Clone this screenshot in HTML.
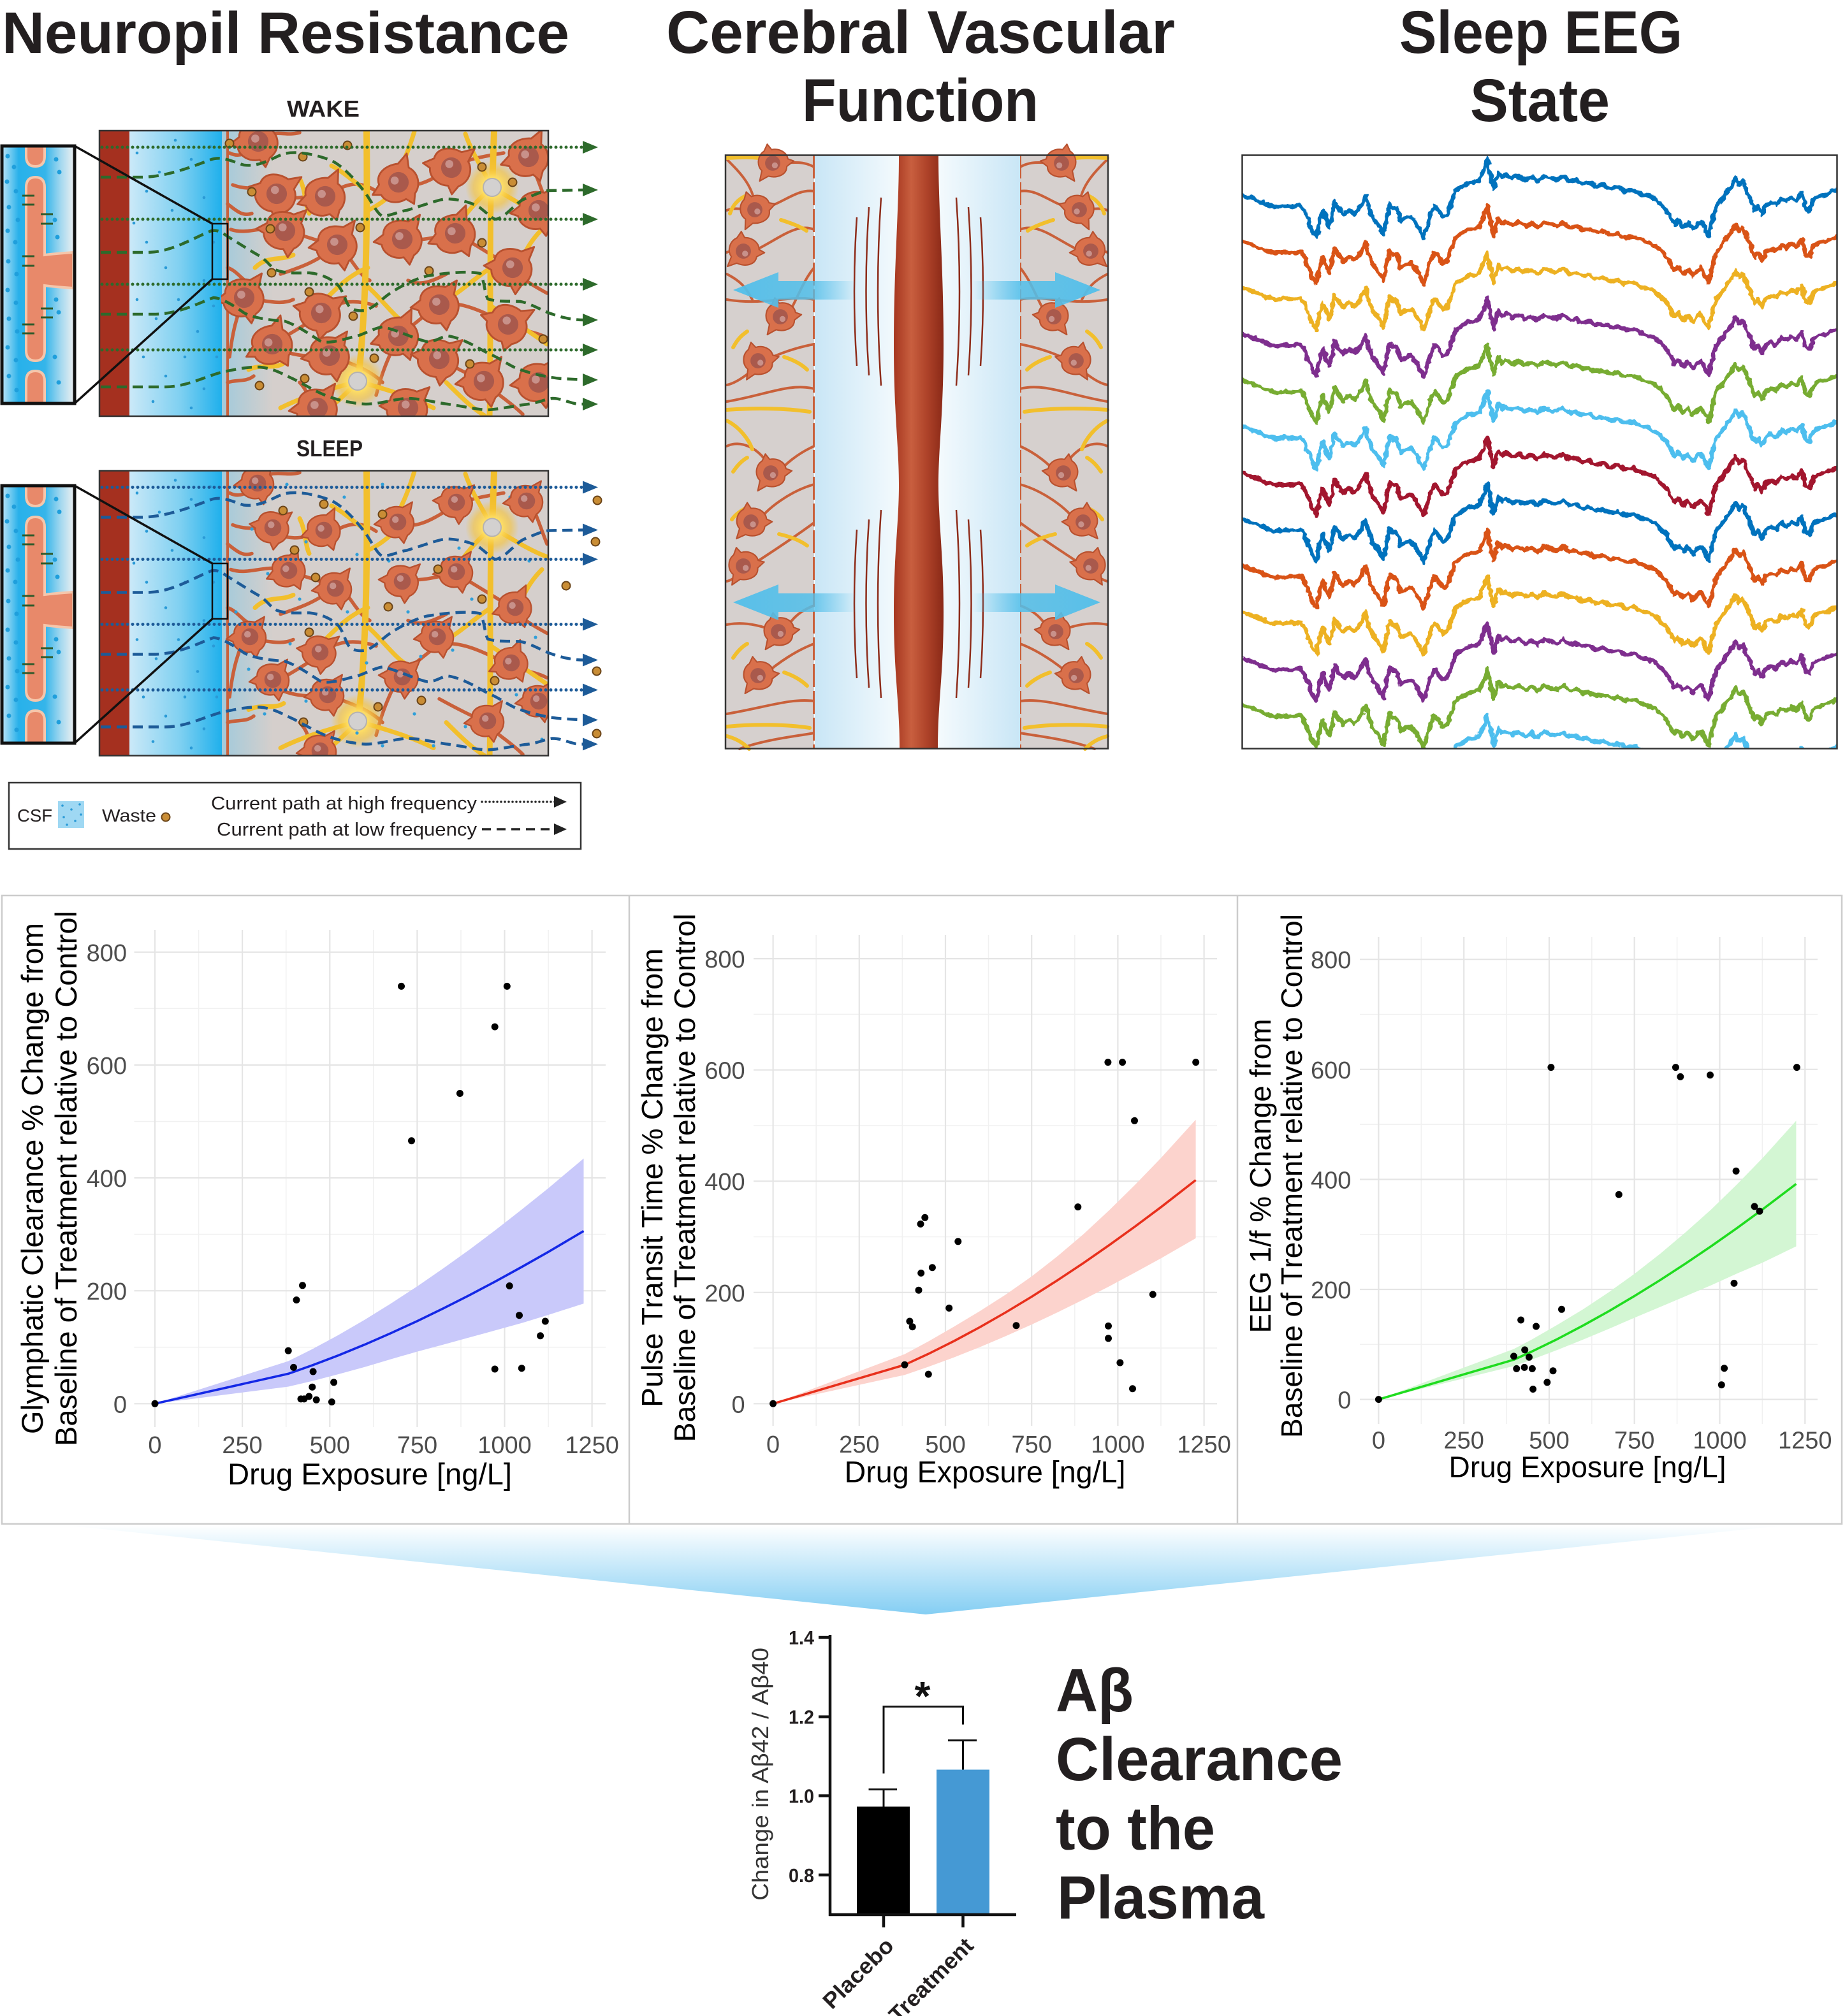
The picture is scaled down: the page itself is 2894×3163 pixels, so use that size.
<!DOCTYPE html>
<html><head><meta charset="utf-8">
<style>html,body{margin:0;padding:0;background:#fff}svg{display:block}</style>
</head><body>
<svg xmlns="http://www.w3.org/2000/svg" width="2894" height="3163" viewBox="0 0 2894 3163" font-family="'Liberation Sans', sans-serif">
<defs>
  <linearGradient id="wbg" x1="0" x2="1" y1="0" y2="0">
    <stop offset="0" stop-color="#cbe9f8"/><stop offset="0.55" stop-color="#7fd0f1"/><stop offset="1" stop-color="#1fb0ec"/>
  </linearGradient>
  <linearGradient id="tleft" x1="0" x2="1" y1="0" y2="0">
    <stop offset="0" stop-color="#8cc8e2" stop-opacity="0.7"/><stop offset="1" stop-color="#8cc8e2" stop-opacity="0"/>
  </linearGradient>
  <linearGradient id="ig" x1="0" x2="1" y1="0" y2="0">
    <stop offset="0" stop-color="#b0e0f6"/><stop offset="0.22" stop-color="#28b1ea"/><stop offset="0.6" stop-color="#35b5ea"/><stop offset="0.82" stop-color="#a3d8ef"/><stop offset="1" stop-color="#e8eef1"/>
  </linearGradient>
  <linearGradient id="ves" x1="0" x2="1" y1="0" y2="0">
    <stop offset="0" stop-color="#a6361f"/><stop offset="0.35" stop-color="#c85f3f"/><stop offset="0.65" stop-color="#b0442a"/><stop offset="1" stop-color="#8a2917"/>
  </linearGradient>
  <linearGradient id="mbl" x1="0" x2="1" y1="0" y2="0">
    <stop offset="0" stop-color="#c9e6f6"/><stop offset="1" stop-color="#f4fafd"/>
  </linearGradient>
  <linearGradient id="mbr" x1="1" x2="0" y1="0" y2="0">
    <stop offset="0" stop-color="#c9e6f6"/><stop offset="1" stop-color="#f4fafd"/>
  </linearGradient>
  <linearGradient id="arrL" x1="0" x2="1" y1="0" y2="0">
    <stop offset="0" stop-color="#52bfea" stop-opacity="0.95"/><stop offset="0.62" stop-color="#52bfea" stop-opacity="0.85"/><stop offset="1" stop-color="#52bfea" stop-opacity="0"/>
  </linearGradient>
  <linearGradient id="arrR" x1="1" x2="0" y1="0" y2="0">
    <stop offset="0" stop-color="#52bfea" stop-opacity="0.95"/><stop offset="0.62" stop-color="#52bfea" stop-opacity="0.85"/><stop offset="1" stop-color="#52bfea" stop-opacity="0"/>
  </linearGradient>
  <linearGradient id="chev" gradientUnits="userSpaceOnUse" x1="0" y1="2393" x2="0" y2="2533">
    <stop offset="0" stop-color="#ffffff"/><stop offset="1" stop-color="#84cef3"/>
  </linearGradient>
  <radialGradient id="yg">
    <stop offset="0" stop-color="#fffef0"/><stop offset="0.35" stop-color="#ffe066"/><stop offset="0.7" stop-color="#f6c43a" stop-opacity="0.6"/><stop offset="1" stop-color="#f6c43a" stop-opacity="0"/>
  </radialGradient>
  <filter id="jag" x="-3%" y="-3%" width="106%" height="106%">
    <feTurbulence type="fractalNoise" baseFrequency="0.1" numOctaves="2" seed="7" result="n"/>
    <feDisplacementMap in="SourceGraphic" in2="n" scale="8" xChannelSelector="R" yChannelSelector="G"/>
  </filter>
  <clipPath id="wclip"><rect x="347" y="206" width="513" height="446"/></clipPath>
  <clipPath id="sclip"><rect x="347" y="739.5" width="513" height="445"/></clipPath>
  <clipPath id="eegclip"><rect x="1949" y="244" width="932" height="930"/></clipPath>

  <g id="nr">
    <path d="M-26,-6 C-26,-22 -8,-28 8,-24 L24,-33 L20,-14 C30,-4 28,14 16,22 L10,35 L2,25 C-12,28 -26,20 -28,8 L-39,4 Z" fill="#d9704b" stroke="#b8512f" stroke-width="2.5" stroke-linejoin="round"/>
    <circle cx="0" cy="0" r="14" fill="#a9594c"/>
    <circle cx="-4" cy="-4" r="5.5" fill="#c8918a"/>
  </g>
  <g id="yn"><circle r="42" fill="url(#yg)"/><circle r="14" fill="#d3d1d0" stroke="#b5b2b0" stroke-width="2"/></g>
  <circle id="wd" r="6.5" fill="#c98d35" stroke="#6a4418" stroke-width="2"/>

  <path id="eeg" fill="none" stroke-width="6.5" stroke-linejoin="round" d="M1948,-1 L1960,4 1972,8 1985,14 2000,19 2015,17 2030,18 2040,16 2046,24 2052,40 2058,55 2065,66 2070,40 2075,24 2080,38 2085,49 2090,30 2093,11 2100,22 2107,31 2112,26 2117,24 2124,30 2130,24 2136,14 2142,1 2147,20 2153,36 2160,44 2165,52 2170,62 2175,36 2180,14 2185,20 2190,19 2194,30 2197,41 2205,36 2213,34 2220,42 2226,52 2233,67 2240,44 2245,28 2250,17 2256,24 2263,34 2270,31 2276,14 2283,-6 2292,-12 2303,-19 2312,-20 2320,-23 2326,-36 2333,-56 2338,-30 2343,-9 2350,-36 2356,-28 2362,-32 2372,-26 2382,-30 2392,-24 2402,-28 2412,-22 2422,-30 2432,-26 2442,-24 2452,-30 2462,-22 2472,-24 2482,-18 2492,-20 2502,-14 2514,-16 2526,-10 2538,-12 2550,-6 2562,-8 2574,-2 2586,2 2596,6 2606,16 2614,24 2620,34 2626,46 2632,40 2640,50 2648,44 2656,54 2662,46 2668,42 2674,52 2680,64 2686,40 2692,18 2700,8 2708,-4 2716,-14 2722,-26 2728,-16 2734,-22 2740,-6 2746,6 2752,24 2758,18 2764,30 2770,16 2778,12 2786,16 2794,6 2802,10 2810,4 2818,8 2826,-4 2832,20 2838,24 2844,8 2852,2 2862,0 2872,-4 2882,-8"/>

  <g id="bd" fill="#2a9ad6">
    <circle cx="215" cy="240" r="2.3"/><circle cx="230" cy="300" r="2.3"/><circle cx="250" cy="270" r="2.3"/><circle cx="270" cy="330" r="2.3"/><circle cx="300" cy="250" r="2.3"/><circle cx="320" cy="310" r="2.3"/><circle cx="230" cy="380" r="2.3"/><circle cx="260" cy="420" r="2.3"/><circle cx="290" cy="380" r="2.3"/><circle cx="320" cy="440" r="2.3"/><circle cx="215" cy="470" r="2.3"/><circle cx="245" cy="500" r="2.3"/><circle cx="280" cy="470" r="2.3"/><circle cx="310" cy="520" r="2.3"/><circle cx="335" cy="480" r="2.3"/><circle cx="225" cy="560" r="2.3"/><circle cx="260" cy="590" r="2.3"/><circle cx="290" cy="560" r="2.3"/><circle cx="320" cy="610" r="2.3"/><circle cx="240" cy="630" r="2.3"/><circle cx="300" cy="640" r="2.3"/><circle cx="335" cy="380" r="2.3"/><circle cx="340" cy="560" r="2.3"/><circle cx="210" cy="350" r="2.3"/><circle cx="275" cy="220" r="2.3"/><circle cx="330" cy="230" r="2.3"/>
  </g>

  <g id="inset">
    <rect x="5" y="231" width="110" height="400" fill="url(#ig)"/>
    <g fill="#1f9fdc">
      <circle cx="12" cy="245" r="3.5"/><circle cx="22" cy="262" r="3.5"/><circle cx="11" cy="285" r="3.5"/><circle cx="25" cy="300" r="3.5"/><circle cx="14" cy="325" r="3.5"/><circle cx="28" cy="345" r="3.5"/><circle cx="12" cy="362" r="3.5"/><circle cx="24" cy="380" r="3.5"/><circle cx="13" cy="410" r="3.5"/><circle cx="26" cy="430" r="3.5"/><circle cx="12" cy="455" r="3.5"/><circle cx="25" cy="475" r="3.5"/><circle cx="14" cy="500" r="3.5"/><circle cx="27" cy="520" r="3.5"/><circle cx="12" cy="545" r="3.5"/><circle cx="25" cy="565" r="3.5"/><circle cx="14" cy="590" r="3.5"/><circle cx="26" cy="612" r="3.5"/>
      <circle cx="88" cy="250" r="3.5"/><circle cx="93" cy="270" r="3.5"/><circle cx="86" cy="345" r="3.5"/><circle cx="58" cy="352" r="3.5"/><circle cx="90" cy="372" r="3.5"/><circle cx="88" cy="470" r="3.5"/><circle cx="92" cy="490" r="3.5"/><circle cx="86" cy="560" r="3.5"/><circle cx="92" cy="600" r="3.5"/>
    </g>
    <g fill="#e8896a" stroke="#f5c6ab" stroke-width="4">
      <path d="M41,231 V245 Q41,261 55.5,261 Q70,261 70,245 V231"/>
      <path d="M41,294 Q41,278 55.5,278 Q70,278 70,294 V400 Q85,398 115,396 V452 Q85,450 70,448 V550 Q70,566 55.5,566 Q41,566 41,550 Z"/>
      <path d="M41,631 V598 Q41,582 55.5,582 Q70,582 70,598 V631"/>
    </g>
    <g stroke="#2f5a2a" stroke-width="3">
      <line x1="35" y1="307" x2="54" y2="307"/><line x1="35" y1="321" x2="54" y2="321"/><line x1="64" y1="336" x2="83" y2="336"/><line x1="64" y1="351" x2="83" y2="351"/><line x1="35" y1="402" x2="54" y2="402"/><line x1="35" y1="417" x2="54" y2="417"/><line x1="64" y1="484" x2="83" y2="484"/><line x1="64" y1="498" x2="83" y2="498"/><line x1="35" y1="509" x2="54" y2="509"/><line x1="35" y1="523" x2="54" y2="523"/>
    </g>
    <rect x="3" y="229" width="114" height="404" fill="none" stroke="#111" stroke-width="5"/>
    <line x1="117" y1="229" x2="333" y2="351" stroke="#111" stroke-width="3.5"/>
    <line x1="117" y1="633" x2="333" y2="438" stroke="#111" stroke-width="3.5"/>
    <rect x="333" y="351" width="24" height="87" fill="none" stroke="#111" stroke-width="2.5"/>
  </g>

  <g id="dend">
    <rect x="348" y="206" width="512" height="446" fill="#d5cfcc"/>
    <rect x="348" y="206" width="80" height="446" fill="url(#tleft)"/>
    <g fill="none" stroke="#c9603a" stroke-width="5.5" stroke-linecap="round">
      <line x1="357" y1="206" x2="357" y2="652" stroke-width="4"/>
      <path d="M360,240 C380,250 395,235 405,221"/><path d="M405,221 C430,200 445,215 470,208"/>
      <path d="M434,304 C410,290 390,300 365,290"/><path d="M434,304 C470,320 490,300 510,308"/>
      <path d="M510,308 C540,290 560,280 590,300"/><path d="M447,362 C420,350 390,370 362,360"/>
      <path d="M447,362 C480,370 500,380 529,384"/><path d="M529,384 C550,400 560,430 580,440"/>
      <path d="M529,384 C500,410 470,420 440,430"/><path d="M625,286 C650,300 680,280 708,263"/>
      <path d="M708,263 C730,250 760,245 790,240"/><path d="M631,375 C660,380 690,370 714,366"/>
      <path d="M714,366 C740,380 770,400 804,420"/><path d="M804,420 C820,440 840,450 858,460"/>
      <path d="M383,467 C410,470 440,480 460,470"/><path d="M504,491 C530,470 560,470 590,480"/>
      <path d="M504,491 C480,510 460,520 427,540"/><path d="M625,527 C650,510 670,490 689,478"/>
      <path d="M689,478 C720,470 760,490 797,509"/><path d="M797,509 C820,520 840,520 858,530"/>
      <path d="M427,540 C450,560 490,560 517,558"/><path d="M517,558 C550,570 580,580 600,600"/>
      <path d="M689,563 C720,580 740,590 759,598"/><path d="M759,598 C780,620 800,630 820,650"/>
      <path d="M383,467 C370,500 365,520 360,560"/><path d="M625,527 C610,560 600,580 590,620"/>
      <path d="M829,246 C840,270 850,300 858,320"/><path d="M640,440 C660,450 680,440 700,430"/>
      <path d="M470,600 C490,620 480,640 498,634"/><path d="M357,320 C370,330 380,340 395,335"/>
      <path d="M357,420 C372,425 380,440 392,445"/><path d="M357,600 C372,595 385,600 398,590"/>
    </g>
    <g fill="none" stroke="#f2bf2c" stroke-width="7" stroke-linecap="round">
      <path d="M575,206 C577,400 572,500 562,598" stroke-width="10"/>
      <path d="M775,206 C774,240 773,270 772,294" stroke-width="10"/>
      <path d="M770,300 C768,450 770,550 768,652" stroke-width="9"/>
      <path d="M577,330 C600,320 620,300 640,280"/><path d="M577,300 C560,290 540,270 520,260"/>
      <path d="M577,450 C600,470 620,500 640,510"/><path d="M577,420 C550,430 530,450 510,470"/>
      <path d="M562,598 C520,610 480,620 440,640"/><path d="M562,598 C600,610 640,620 680,640"/>
      <path d="M562,598 C540,620 520,640 500,652"/><path d="M772,294 C740,320 720,350 700,380"/>
      <path d="M772,294 C800,310 830,330 858,340"/><path d="M772,294 C760,270 740,240 730,210"/>
      <path d="M770,420 C740,440 720,460 700,470"/><path d="M770,480 C800,500 830,520 858,540"/>
      <path d="M650,206 C640,240 630,260 620,280"/><path d="M850,360 C830,380 820,400 810,430"/>
      <path d="M700,600 C720,620 740,640 760,652"/><path d="M400,420 C420,400 440,410 460,400"/>
      <path d="M390,580 C410,570 430,580 445,570"/><path d="M470,280 C480,300 478,320 485,335"/>
    </g>
    <use href="#yn" x="772" y="294"/>
    <use href="#yn" x="561" y="598"/>
  </g>

  <g id="paths" fill="none" stroke="currentColor" stroke-width="4.5">
    <g stroke-dasharray="0 8" stroke-linecap="round" stroke-width="5">
      <line x1="160" y1="231" x2="916" y2="231"/><line x1="160" y1="344" x2="916" y2="344"/><line x1="160" y1="446" x2="916" y2="446"/><line x1="160" y1="549" x2="916" y2="549"/>
    </g>
    <g stroke-dasharray="16 9">
      <path d="M158,278 L220,278 C260,278 300,262 332,250 C350,244 370,256 383,259 C410,262 430,246 446,241 C470,236 500,244 520,252 C540,262 560,285 574,304 C585,320 592,336 600,339 C615,338 625,332 638,330 C665,322 690,312 702,312 C725,313 745,320 753,326 C765,335 772,344 778,344 C795,340 808,318 823,312 C840,305 850,300 861,299 L916,298"/>
      <path d="M158,396 L230,396 C270,396 305,372 332,362 C342,360 350,366 357,371 C380,385 395,395 408,402 C420,410 425,420 434,424 C450,430 470,428 485,428 C505,430 520,438 529,446 C540,458 542,476 549,482 C555,488 565,488 574,487 C590,480 600,468 612,460 C630,448 650,438 670,433 C700,428 735,425 753,429 C760,440 760,460 765,469 C780,474 800,472 816,473 C832,476 848,486 861,491 C878,497 895,502 916,502"/>
      <path d="M158,493 L240,493 C280,493 310,476 335,467 C350,468 370,482 383,491 C400,500 425,502 447,504 C470,512 490,528 504,536 C520,540 545,530 561,527 C575,522 590,514 600,513 C625,518 650,532 670,536 C685,536 692,528 702,527 C725,530 750,546 765,554 C785,562 800,575 816,580 C840,588 860,592 880,594 L916,596"/>
      <path d="M158,607 L260,607 C290,607 320,592 344,585 C365,580 390,575 408,576 C430,578 445,588 459,594 C475,602 495,614 510,620 C530,628 552,633 574,634 C595,634 620,626 638,625 C660,625 685,632 702,634 C725,637 750,643 765,643 C785,642 810,636 829,634 C845,632 855,626 867,625 C880,625 893,632 906,634 L916,634"/>
    </g>
    <g fill="currentColor" stroke="none">
      <polygon points="914,221 938,231 914,241"/><polygon points="914,334 938,344 914,354"/><polygon points="914,436 938,446 914,456"/><polygon points="914,539 938,549 914,559"/>
      <polygon points="914,288 938,298 914,308"/><polygon points="914,492 938,502 914,512"/><polygon points="914,586 938,596 914,606"/><polygon points="914,624 938,634 914,644"/>
    </g>
  </g>

  <g id="mtl">
    <rect x="1138" y="244" width="139" height="931" fill="#d6d0ce"/>
    <g fill="none" stroke="#c9603a" stroke-width="4" stroke-linecap="round">
      <path d="M1277,262 C1255,250 1240,258 1225,254"/><path d="M1277,300 C1250,296 1230,318 1200,326"/>
      <path d="M1200,326 C1180,336 1160,322 1140,330"/><path d="M1277,360 C1250,350 1225,372 1190,390"/>
      <path d="M1190,390 C1170,400 1150,390 1140,396"/><path d="M1277,420 C1260,440 1250,470 1236,494"/>
      <path d="M1277,470 C1240,462 1200,480 1140,470"/><path d="M1277,540 C1250,545 1220,555 1200,566"/>
      <path d="M1200,566 C1180,580 1160,600 1140,604"/><path d="M1277,610 C1240,600 1200,620 1140,630"/>
      <path d="M1277,700 C1250,712 1230,730 1220,742"/><path d="M1277,760 C1240,770 1200,800 1190,818"/>
      <path d="M1277,820 C1250,840 1220,860 1180,886"/><path d="M1180,886 C1160,900 1150,910 1140,912"/>
      <path d="M1277,950 C1250,960 1240,975 1230,990"/><path d="M1277,1010 C1250,1020 1220,1040 1200,1058"/>
      <path d="M1277,1100 C1240,1095 1200,1110 1140,1120"/><path d="M1277,1150 C1250,1155 1200,1160 1160,1175"/>
      <path d="M1140,250 C1160,270 1180,290 1184,320"/><path d="M1140,700 C1160,690 1190,700 1209,735"/>
      <path d="M1140,980 C1165,975 1190,980 1215,990"/><path d="M1140,430 C1160,440 1170,450 1180,470"/>
    </g>
    <g fill="none" stroke="#f2bf2c" stroke-width="6" stroke-linecap="round">
      <path d="M1145,335 C1150,320 1160,312 1168,308"/><path d="M1225,345 C1240,350 1255,355 1265,362"/>
      <path d="M1150,545 C1158,530 1165,525 1172,520"/><path d="M1230,560 C1245,565 1258,572 1266,580"/>
      <path d="M1140,643 C1180,640 1230,640 1270,646"/><path d="M1140,660 C1160,670 1175,690 1180,705"/>
      <path d="M1150,740 C1158,728 1165,722 1172,718"/><path d="M1148,815 C1155,805 1165,800 1172,796"/>
      <path d="M1222,838 C1240,842 1255,848 1266,856"/><path d="M1150,1032 C1158,1020 1165,1014 1172,1010"/>
      <path d="M1230,1055 C1245,1060 1258,1068 1266,1076"/><path d="M1140,1140 C1180,1136 1230,1136 1270,1142"/>
      <path d="M1140,1155 C1160,1160 1170,1170 1175,1175"/><path d="M1140,248 C1160,247 1175,246 1190,248"/>
    </g>
    <use href="#nr" transform="translate(1212,256) scale(0.85) rotate(180)"/>
    <use href="#nr" transform="translate(1184,329) scale(0.85) rotate(170)"/>
    <use href="#nr" transform="translate(1166,394) scale(0.85) rotate(190)"/>
    <use href="#nr" transform="translate(1224,497) scale(0.85) rotate(180)"/>
    <use href="#nr" transform="translate(1189,566) scale(0.85) rotate(175)"/>
    <use href="#nr" transform="translate(1209,742) scale(0.85) rotate(180)"/>
    <use href="#nr" transform="translate(1178,819) scale(0.85) rotate(185)"/>
    <use href="#nr" transform="translate(1166,888) scale(0.85) rotate(175)"/>
    <use href="#nr" transform="translate(1221,991) scale(0.85) rotate(180)"/>
    <use href="#nr" transform="translate(1189,1060) scale(0.85) rotate(180)"/>
    <line x1="1277" y1="244" x2="1277" y2="1175" stroke="#c9603a" stroke-width="4" stroke-dasharray="36 6"/>
  </g>
</defs>

<rect x="0" y="0" width="2894" height="3163" fill="#fff"/>

<g font-weight="700" fill="#231f20">
  <text x="3" y="83" font-size="92" textLength="890" lengthAdjust="spacingAndGlyphs">Neuropil Resistance</text>
  <text x="1045" y="83" font-size="95" textLength="798" lengthAdjust="spacingAndGlyphs">Cerebral Vascular</text>
  <text x="1258" y="190" font-size="95" textLength="371" lengthAdjust="spacingAndGlyphs">Function</text>
  <text x="2195" y="83" font-size="95" textLength="444" lengthAdjust="spacingAndGlyphs">Sleep EEG</text>
  <text x="2306" y="190" font-size="95" textLength="219" lengthAdjust="spacingAndGlyphs">State</text>
  <text x="450" y="183" font-size="36" textLength="114" lengthAdjust="spacingAndGlyphs">WAKE</text>
  <text x="465" y="716" font-size="36" textLength="104" lengthAdjust="spacingAndGlyphs">SLEEP</text>
</g>

<!-- WAKE -->
<rect x="156" y="206" width="47" height="446" fill="#a5301f"/>
<rect x="203" y="206" width="145" height="446" fill="url(#wbg)"/>
<use href="#bd"/>
<g clip-path="url(#wclip)">
  <use href="#dend"/>
  <g>
    <use href="#nr" transform="translate(405,222) scale(1.15)"/><use href="#nr" transform="translate(434,304) scale(1.15) rotate(20)"/>
    <use href="#nr" transform="translate(510,308) scale(1.15) rotate(-10)"/><use href="#nr" transform="translate(447,362) scale(1.15) rotate(10)"/>
    <use href="#nr" transform="translate(529,384) scale(1.15)"/><use href="#nr" transform="translate(625,286) scale(1.15) rotate(-20)"/>
    <use href="#nr" transform="translate(708,263) scale(1.15) rotate(15)"/><use href="#nr" transform="translate(631,375) scale(1.15)"/>
    <use href="#nr" transform="translate(714,366) scale(1.15) rotate(-15)"/><use href="#nr" transform="translate(804,420) scale(1.15) rotate(10)"/>
    <use href="#nr" transform="translate(383,467) scale(1.15)"/><use href="#nr" transform="translate(504,491) scale(1.15) rotate(20)"/>
    <use href="#nr" transform="translate(625,527) scale(1.15) rotate(-10)"/><use href="#nr" transform="translate(689,478) scale(1.15)"/>
    <use href="#nr" transform="translate(797,509) scale(1.15) rotate(25)"/><use href="#nr" transform="translate(427,540) scale(1.15) rotate(-20)"/>
    <use href="#nr" transform="translate(517,558) scale(1.15)"/><use href="#nr" transform="translate(689,563) scale(1.15) rotate(15)"/>
    <use href="#nr" transform="translate(759,598) scale(1.15)"/><use href="#nr" transform="translate(829,246) scale(1.15) rotate(-10)"/>
    <use href="#nr" transform="translate(498,640) scale(1.15)"/><use href="#nr" transform="translate(640,640) scale(1.15) rotate(10)"/>
    <use href="#nr" transform="translate(845,600) scale(1.15)"/><use href="#nr" transform="translate(845,330) scale(1.15)"/>
  </g>
  <g>
    <use href="#wd" x="360" y="225"/><use href="#wd" x="545" y="228"/><use href="#wd" x="475" y="246"/><use href="#wd" x="756" y="262"/><use href="#wd" x="804" y="286"/><use href="#wd" x="395" y="301"/><use href="#wd" x="424" y="359"/><use href="#wd" x="565" y="357"/><use href="#wd" x="756" y="381"/><use href="#wd" x="426" y="428"/><use href="#wd" x="673" y="425"/><use href="#wd" x="485" y="458"/><use href="#wd" x="554" y="496"/><use href="#wd" x="852" y="532"/><use href="#wd" x="587" y="562"/><use href="#wd" x="737" y="571"/><use href="#wd" x="478" y="594"/><use href="#wd" x="407" y="605"/>
  </g>
</g>
<rect x="156" y="205" width="704" height="448" fill="none" stroke="#333" stroke-width="2.5"/>
<use href="#paths" style="color:#2d6a2b"/>
<use href="#inset"/>

<!-- SLEEP -->
<g transform="translate(0,533.5)">
  <rect x="156" y="206" width="47" height="446" fill="#a5301f"/>
  <rect x="203" y="206" width="145" height="446" fill="url(#wbg)"/>
  <use href="#bd"/>
</g>
<g clip-path="url(#sclip)">
  <use href="#dend" transform="translate(0,533.5)"/>
  <g fill="#2f9fd9">
    <circle cx="380" cy="770" r="2.6"/><circle cx="395" cy="830" r="2.6"/><circle cx="420" cy="900" r="2.6"/><circle cx="370" cy="960" r="2.6"/><circle cx="390" cy="1050" r="2.6"/><circle cx="415" cy="1120" r="2.6"/><circle cx="450" cy="760" r="2.6"/><circle cx="480" cy="850" r="2.6"/><circle cx="470" cy="940" r="2.6"/><circle cx="455" cy="1010" r="2.6"/><circle cx="480" cy="1100" r="2.6"/><circle cx="540" cy="780" r="2.6"/><circle cx="560" cy="870" r="2.6"/><circle cx="545" cy="960" r="2.6"/><circle cx="575" cy="1040" r="2.6"/><circle cx="560" cy="1150" r="2.6"/><circle cx="600" cy="760" r="2.6"/><circle cx="610" cy="880" r="2.6"/><circle cx="640" cy="960" r="2.6"/><circle cx="660" cy="1030" r="2.6"/><circle cx="650" cy="1120" r="2.6"/><circle cx="700" cy="770" r="2.6"/><circle cx="720" cy="860" r="2.6"/><circle cx="740" cy="940" r="2.6"/><circle cx="710" cy="1020" r="2.6"/><circle cx="730" cy="1140" r="2.6"/><circle cx="800" cy="780" r="2.6"/><circle cx="830" cy="880" r="2.6"/><circle cx="790" cy="960" r="2.6"/><circle cx="840" cy="1000" r="2.6"/><circle cx="810" cy="1090" r="2.6"/><circle cx="850" cy="1160" r="2.6"/><circle cx="600" cy="1170" r="2.6"/><circle cx="680" cy="1170" r="2.6"/>
  </g>
  <g>
    <use href="#nr" transform="translate(404,758) scale(0.95)"/><use href="#nr" transform="translate(428,828) scale(0.95) rotate(15)"/>
    <use href="#nr" transform="translate(508,832) scale(0.95) rotate(-10)"/><use href="#nr" transform="translate(624,819) scale(0.95)"/>
    <use href="#nr" transform="translate(716,788) scale(0.95) rotate(10)"/><use href="#nr" transform="translate(826,786) scale(0.95)"/>
    <use href="#nr" transform="translate(453,895) scale(0.95) rotate(-15)"/><use href="#nr" transform="translate(526,923) scale(0.95)"/>
    <use href="#nr" transform="translate(631,912) scale(0.95) rotate(10)"/><use href="#nr" transform="translate(716,897) scale(0.95)"/>
    <use href="#nr" transform="translate(808,953) scale(0.95) rotate(-10)"/><use href="#nr" transform="translate(392,999) scale(0.95)"/>
    <use href="#nr" transform="translate(502,1023) scale(0.95) rotate(15)"/><use href="#nr" transform="translate(686,999) scale(0.95)"/>
    <use href="#nr" transform="translate(802,1040) scale(0.95) rotate(-15)"/><use href="#nr" transform="translate(428,1066) scale(0.95)"/>
    <use href="#nr" transform="translate(631,1062) scale(0.95) rotate(10)"/><use href="#nr" transform="translate(514,1090) scale(0.95)"/>
    <use href="#nr" transform="translate(765,1131) scale(0.95)"/><use href="#nr" transform="translate(502,1178) scale(0.95)"/>
    <use href="#nr" transform="translate(845,1100) scale(0.95)"/>
  </g>
  <g>
    <use href="#wd" x="444" y="801"/><use href="#wd" x="508" y="791"/><use href="#wd" x="600" y="807"/><use href="#wd" x="462" y="863"/><use href="#wd" x="495" y="906"/><use href="#wd" x="687" y="893"/><use href="#wd" x="609" y="952"/><use href="#wd" x="756" y="940"/><use href="#wd" x="485" y="992"/><use href="#wd" x="776" y="1068"/><use href="#wd" x="661" y="1099"/><use href="#wd" x="593" y="1109"/><use href="#wd" x="476" y="1133"/>
  </g>
</g>
<rect x="156" y="738.5" width="704" height="447" fill="none" stroke="#333" stroke-width="2.5"/>
<use href="#paths" transform="translate(0,533.5)" style="color:#1d5b98"/>
<use href="#inset" transform="translate(0,533)"/>
<use href="#wd" x="937" y="785"/><use href="#wd" x="934" y="850"/><use href="#wd" x="888" y="919"/><use href="#wd" x="936" y="1053"/><use href="#wd" x="936" y="1151"/>

<!-- legend -->
<rect x="14" y="1228" width="897" height="104" fill="none" stroke="#333" stroke-width="2.5"/>
<g font-family="'Liberation Sans Narrow','Liberation Sans',sans-serif" fill="#231f20">
  <text x="27" y="1289" font-size="28" textLength="55" lengthAdjust="spacingAndGlyphs">CSF</text>
  <text x="160" y="1289" font-size="28" textLength="85" lengthAdjust="spacingAndGlyphs">Waste</text>
  <text x="331" y="1270" font-size="29" textLength="417" lengthAdjust="spacingAndGlyphs">Current path at high frequency</text>
  <text x="340" y="1311" font-size="29" textLength="408" lengthAdjust="spacingAndGlyphs">Current path at low frequency</text>
</g>
<rect x="91" y="1257" width="41" height="42" fill="#9fd8f3"/>
<g fill="#2a9ad6"><circle cx="98" cy="1264" r="1.8"/><circle cx="112" cy="1270" r="1.8"/><circle cx="125" cy="1262" r="1.8"/><circle cx="100" cy="1282" r="1.8"/><circle cx="118" cy="1288" r="1.8"/><circle cx="127" cy="1278" r="1.8"/><circle cx="105" cy="1294" r="1.8"/></g>
<use href="#wd" x="260" y="1282"/>
<line x1="756" y1="1258" x2="872" y2="1258" stroke="#222" stroke-width="3.5" stroke-dasharray="0 6" stroke-linecap="round"/>
<polygon points="869,1249 889,1258 869,1267" fill="#222"/>
<line x1="756" y1="1301" x2="872" y2="1301" stroke="#222" stroke-width="3.5" stroke-dasharray="14 9"/>
<polygon points="869,1292 889,1301 869,1310" fill="#222"/>

<!-- MIDDLE -->
<use href="#mtl"/>
<use href="#mtl" transform="translate(2877,0) scale(-1,1)"/>
<rect x="1278" y="244" width="132" height="931" fill="url(#mbl)"/>
<rect x="1472" y="244" width="128" height="931" fill="url(#mbr)"/>
<path d="M1410,244 C1410,330 1402,420 1402,540 C1402,650 1410,700 1410,760 C1410,820 1402,870 1402,960 C1402,1060 1411,1100 1411,1175 L1471,1175 C1471,1100 1480,1060 1480,960 C1480,870 1472,820 1472,760 C1472,700 1480,650 1480,540 C1480,420 1472,330 1472,244 Z" fill="url(#ves)"/>
<g fill="none" stroke="#8e2c1a" stroke-width="2.5">
  <path d="M1344,341 Q1336,457 1344,574"/><path d="M1363,325 Q1354,457 1363,589"/><path d="M1382,310 Q1372,457 1382,605"/>
  <path d="M1538,341 Q1546,457 1538,574"/><path d="M1519,325 Q1528,457 1519,589"/><path d="M1500,310 Q1510,457 1500,605"/>
  <path d="M1344,831 Q1336,947 1344,1064"/><path d="M1363,815 Q1354,947 1363,1079"/><path d="M1382,800 Q1372,947 1382,1095"/>
  <path d="M1538,831 Q1546,947 1538,1064"/><path d="M1519,815 Q1528,947 1519,1079"/><path d="M1500,800 Q1510,947 1500,1095"/>
</g>
<polygon points="1150,455 1221,427 1221,441 1344,441 1344,470 1221,470 1221,483" fill="url(#arrL)"/>
<polygon points="1726,455 1655,427 1655,441 1525,441 1525,470 1655,470 1655,483" fill="url(#arrR)"/>
<polygon points="1150,945 1221,917 1221,931 1344,931 1344,960 1221,960 1221,973" fill="url(#arrL)"/>
<polygon points="1726,945 1655,917 1655,931 1525,931 1525,960 1655,960 1655,973" fill="url(#arrR)"/>
<rect x="1138" y="243.5" width="600" height="931" fill="none" stroke="#333" stroke-width="2.5"/>

<!-- EEG -->
<g clip-path="url(#eegclip)">
  <g filter="url(#jag)">
    <use href="#eeg" transform="translate(0,306)" stroke="#0072BD"/>
    <use href="#eeg" transform="translate(0,378.7)" stroke="#D95319"/>
    <use href="#eeg" transform="translate(0,451.4)" stroke="#EDB120"/>
    <use href="#eeg" transform="translate(0,524.1)" stroke="#7E2F8E"/>
    <use href="#eeg" transform="translate(0,596.8)" stroke="#77AC30"/>
    <use href="#eeg" transform="translate(0,669.5)" stroke="#4DBEEE"/>
    <use href="#eeg" transform="translate(0,742.2)" stroke="#A2142F"/>
    <use href="#eeg" transform="translate(0,814.9)" stroke="#0072BD"/>
    <use href="#eeg" transform="translate(0,887.6)" stroke="#D95319"/>
    <use href="#eeg" transform="translate(0,960.3)" stroke="#EDB120"/>
    <use href="#eeg" transform="translate(0,1033)" stroke="#7E2F8E"/>
    <use href="#eeg" transform="translate(0,1105.7)" stroke="#77AC30"/>
    <use href="#eeg" transform="translate(0,1178.4)" stroke="#4DBEEE"/>
  </g>
</g>
<rect x="1948.5" y="243.5" width="933" height="931" fill="none" stroke="#333" stroke-width="2.5"/>

<!-- CHART PANELS -->
<rect x="3" y="1405" width="2886" height="986" fill="none" stroke="#cccccc" stroke-width="2.5"/>
<line x1="987" y1="1405" x2="987" y2="2391" stroke="#cccccc" stroke-width="2.5"/>
<line x1="1941" y1="1405" x2="1941" y2="2391" stroke="#cccccc" stroke-width="2.5"/>

<!-- Chart 1 -->
<g>
  <g stroke="#f1f1f1" stroke-width="1.6">
    <line x1="311.6" y1="1459" x2="311.6" y2="2239"/><line x1="448.7" y1="1459" x2="448.7" y2="2239"/><line x1="585.8" y1="1459" x2="585.8" y2="2239"/><line x1="723" y1="1459" x2="723" y2="2239"/><line x1="860.1" y1="1459" x2="860.1" y2="2239"/>
    <line x1="210.5" y1="2113.7" x2="950" y2="2113.7"/><line x1="210.5" y1="1936.6" x2="950" y2="1936.6"/><line x1="210.5" y1="1759.5" x2="950" y2="1759.5"/><line x1="210.5" y1="1582.3" x2="950" y2="1582.3"/>
  </g>
  <g stroke="#e5e5e5" stroke-width="2.2">
    <line x1="243" y1="1459" x2="243" y2="2239"/><line x1="380.1" y1="1459" x2="380.1" y2="2239"/><line x1="517.3" y1="1459" x2="517.3" y2="2239"/><line x1="654.4" y1="1459" x2="654.4" y2="2239"/><line x1="791.5" y1="1459" x2="791.5" y2="2239"/><line x1="928.6" y1="1459" x2="928.6" y2="2239"/>
    <line x1="210.5" y1="2202.3" x2="950" y2="2202.3"/><line x1="210.5" y1="2025.2" x2="950" y2="2025.2"/><line x1="210.5" y1="1848" x2="950" y2="1848"/><line x1="210.5" y1="1670.9" x2="950" y2="1670.9"/><line x1="210.5" y1="1493.8" x2="950" y2="1493.8"/>
  </g>
  <polygon fill="#c9c9fa" points="243,2202.3 452,2135.6 489.8,2116.8 531,2094.5 572.1,2070.6 613.2,2045.1 654.4,2018.2 695.5,1989.9 736.7,1960.4 777.8,1929.4 818.9,1897.3 860.1,1864.2 915.5,1817.6 915.5,2045.2 860.1,2063 818.9,2075.6 777.8,2087 736.7,2098.3 695.5,2109.6 654.4,2120.6 613.2,2132.5 572.1,2144.8 531,2156 489.8,2166.8 452,2175.6"/>
  <polyline fill="none" stroke="#1428e6" stroke-width="3.6" stroke-linejoin="round" points="243,2202.3 452,2155.4 489.8,2142.1 531,2126.4 572.1,2109.6 613.2,2091.6 654.4,2072.7 695.5,2052.7 736.7,2031.9 777.8,2010.1 818.9,1987.5 860.1,1964.2 915.5,1931.4"/>
  <g fill="#000">
    <circle cx="243" cy="2202.3" r="5.5"/><circle cx="629.5" cy="1547.4" r="5.5"/><circle cx="795.3" cy="1547.4" r="5.5"/><circle cx="776.2" cy="1611" r="5.5"/><circle cx="721.4" cy="1715.5" r="5.5"/><circle cx="645.5" cy="1789.8" r="5.5"/><circle cx="474.5" cy="2016.8" r="5.5"/><circle cx="465" cy="2039.6" r="5.5"/><circle cx="452.2" cy="2119.2" r="5.5"/><circle cx="460.5" cy="2145.4" r="5.5"/><circle cx="491.1" cy="2152" r="5.5"/><circle cx="489.8" cy="2176.2" r="5.5"/><circle cx="523.6" cy="2168.8" r="5.5"/><circle cx="472" cy="2194.9" r="5.5"/><circle cx="477" cy="2194.9" r="5.5"/><circle cx="484.7" cy="2190.9" r="5.5"/><circle cx="496.2" cy="2196.3" r="5.5"/><circle cx="520.4" cy="2199.6" r="5.5"/><circle cx="799.2" cy="2017.5" r="5.5"/><circle cx="814.5" cy="2063.7" r="5.5"/><circle cx="855.3" cy="2073" r="5.5"/><circle cx="847.6" cy="2095.8" r="5.5"/><circle cx="776.2" cy="2148" r="5.5"/><circle cx="818.3" cy="2146.7" r="5.5"/>
  </g>
  <g font-size="38" fill="#4d4d4d" text-anchor="end">
    <text x="199" y="1507.8">800</text><text x="199" y="1684.9">600</text><text x="199" y="1862">400</text><text x="199" y="2039.2">200</text><text x="199" y="2216.3">0</text>
  </g>
  <g font-size="38" fill="#4d4d4d" text-anchor="middle">
    <text x="243" y="2280">0</text><text x="380.1" y="2280">250</text><text x="517.3" y="2280">500</text><text x="654.4" y="2280">750</text><text x="791.5" y="2280">1000</text><text x="928.6" y="2280">1250</text>
  </g>
  <text x="580" y="2329" font-size="47" text-anchor="middle" textLength="446" lengthAdjust="spacingAndGlyphs">Drug Exposure [ng/L]</text>
  <text transform="translate(67,1849) rotate(-90)" font-size="47" text-anchor="middle" textLength="802" lengthAdjust="spacingAndGlyphs">Glymphatic Clearance % Change from</text>
  <text transform="translate(120,1849) rotate(-90)" font-size="47" text-anchor="middle" textLength="840" lengthAdjust="spacingAndGlyphs">Baseline of Treatment relative to Control</text>
</g>

<!-- Chart 2 -->
<g>
  <g stroke="#f1f1f1" stroke-width="1.6">
    <line x1="1280.2" y1="1467" x2="1280.2" y2="2237"/><line x1="1415.4" y1="1467" x2="1415.4" y2="2237"/><line x1="1550.6" y1="1467" x2="1550.6" y2="2237"/><line x1="1685.8" y1="1467" x2="1685.8" y2="2237"/><line x1="1821" y1="1467" x2="1821" y2="2237"/>
    <line x1="1182" y1="2115" x2="1909" y2="2115"/><line x1="1182" y1="1940.5" x2="1909" y2="1940.5"/><line x1="1182" y1="1766" x2="1909" y2="1766"/><line x1="1182" y1="1591.4" x2="1909" y2="1591.4"/>
  </g>
  <g stroke="#e5e5e5" stroke-width="2.2">
    <line x1="1212.6" y1="1467" x2="1212.6" y2="2237"/><line x1="1347.8" y1="1467" x2="1347.8" y2="2237"/><line x1="1483" y1="1467" x2="1483" y2="2237"/><line x1="1618.2" y1="1467" x2="1618.2" y2="2237"/><line x1="1753.4" y1="1467" x2="1753.4" y2="2237"/><line x1="1888.6" y1="1467" x2="1888.6" y2="2237"/>
    <line x1="1182" y1="2202.3" x2="1909" y2="2202.3"/><line x1="1182" y1="2027.8" x2="1909" y2="2027.8"/><line x1="1182" y1="1853.2" x2="1909" y2="1853.2"/><line x1="1182" y1="1678.7" x2="1909" y2="1678.7"/><line x1="1182" y1="1504.1" x2="1909" y2="1504.1"/>
  </g>
  <polygon fill="#fcd3cd" points="1212.6,2202.3 1419,2124.6 1456,2104.7 1496.5,2081.4 1537.1,2057 1577.6,2031.1 1618.2,2002.6 1658.8,1970.9 1699.3,1936.5 1739.9,1898.8 1780.4,1858.9 1821,1816.9 1875.6,1756.8 1875.6,1942.7 1821,1974.2 1780.4,1996.5 1739.9,2018.2 1699.3,2039 1658.8,2059 1618.2,2078.1 1577.6,2096.3 1537.1,2113.5 1496.5,2129.6 1456,2144.5 1419,2157.2"/>
  <polyline fill="none" stroke="#e8301c" stroke-width="3.6" stroke-linejoin="round" points="1212.6,2202.3 1419,2141.4 1456,2124.3 1496.5,2104 1537.1,2082.2 1577.6,2059 1618.2,2034.5 1658.8,2008.6 1699.3,1981.7 1739.9,1953.5 1780.4,1924.3 1821,1894 1875.6,1851.5"/>
  <g fill="#000">
    <circle cx="1212.6" cy="2202.3" r="5.5"/><circle cx="1419" cy="2141.3" r="5.5"/><circle cx="1456.3" cy="2156.1" r="5.5"/><circle cx="1426.9" cy="2073" r="5.5"/><circle cx="1431.2" cy="2081.7" r="5.5"/><circle cx="1441" cy="2024.2" r="5.5"/><circle cx="1444.7" cy="1997.4" r="5.5"/><circle cx="1462.4" cy="1988.7" r="5.5"/><circle cx="1444" cy="1920.4" r="5.5"/><circle cx="1450.8" cy="1910.3" r="5.5"/><circle cx="1488.7" cy="2052.3" r="5.5"/><circle cx="1502.8" cy="1947.8" r="5.5"/><circle cx="1594" cy="2079.7" r="5.5"/><circle cx="1690.8" cy="1893.6" r="5.5"/><circle cx="1737.9" cy="1666.6" r="5.5"/><circle cx="1760.6" cy="1666.6" r="5.5"/><circle cx="1875.7" cy="1666.6" r="5.5"/><circle cx="1779.5" cy="1758.3" r="5.5"/><circle cx="1808.3" cy="2030.9" r="5.5"/><circle cx="1738.5" cy="2080.4" r="5.5"/><circle cx="1738.5" cy="2099.8" r="5.5"/><circle cx="1756.9" cy="2138" r="5.5"/><circle cx="1776.5" cy="2178.8" r="5.5"/>
  </g>
  <g font-size="38" fill="#4d4d4d" text-anchor="end">
    <text x="1168.6" y="1518.1">800</text><text x="1168.6" y="1692.7">600</text><text x="1168.6" y="1867.2">400</text><text x="1168.6" y="2041.8">200</text><text x="1168.6" y="2216.3">0</text>
  </g>
  <g font-size="38" fill="#4d4d4d" text-anchor="middle">
    <text x="1212.6" y="2279">0</text><text x="1347.8" y="2279">250</text><text x="1483" y="2279">500</text><text x="1618.2" y="2279">750</text><text x="1753.4" y="2279">1000</text><text x="1888.6" y="2279">1250</text>
  </g>
  <text x="1545" y="2325.5" font-size="47" text-anchor="middle" textLength="441" lengthAdjust="spacingAndGlyphs">Drug Exposure [ng/L]</text>
  <text transform="translate(1039,1848) rotate(-90)" font-size="46" text-anchor="middle" textLength="720" lengthAdjust="spacingAndGlyphs">Pulse Transit Time % Change from</text>
  <text transform="translate(1090,1848) rotate(-90)" font-size="46" text-anchor="middle" textLength="829" lengthAdjust="spacingAndGlyphs">Baseline of Treatment relative to Control</text>
</g>

<!-- Chart 3 -->
<g>
  <g stroke="#f1f1f1" stroke-width="1.6">
    <line x1="2229.3" y1="1470" x2="2229.3" y2="2234"/><line x1="2363.1" y1="1470" x2="2363.1" y2="2234"/><line x1="2496.8" y1="1470" x2="2496.8" y2="2234"/><line x1="2630.6" y1="1470" x2="2630.6" y2="2234"/><line x1="2764.4" y1="1470" x2="2764.4" y2="2234"/>
    <line x1="2133" y1="2109.3" x2="2851" y2="2109.3"/><line x1="2133" y1="1936.7" x2="2851" y2="1936.7"/><line x1="2133" y1="1764.1" x2="2851" y2="1764.1"/><line x1="2133" y1="1591.5" x2="2851" y2="1591.5"/>
  </g>
  <g stroke="#e5e5e5" stroke-width="2.2">
    <line x1="2162.4" y1="1470" x2="2162.4" y2="2234"/><line x1="2296.2" y1="1470" x2="2296.2" y2="2234"/><line x1="2430" y1="1470" x2="2430" y2="2234"/><line x1="2563.7" y1="1470" x2="2563.7" y2="2234"/><line x1="2697.5" y1="1470" x2="2697.5" y2="2234"/><line x1="2831.3" y1="1470" x2="2831.3" y2="2234"/>
    <line x1="2133" y1="2195.6" x2="2851" y2="2195.6"/><line x1="2133" y1="2023" x2="2851" y2="2023"/><line x1="2133" y1="1850.4" x2="2851" y2="1850.4"/><line x1="2133" y1="1677.8" x2="2851" y2="1677.8"/><line x1="2133" y1="1505.2" x2="2851" y2="1505.2"/>
  </g>
  <polygon fill="#d3f6d3" points="2162.4,2195.6 2374.5,2116.5 2403.2,2101.4 2443.3,2078.3 2483.5,2054 2523.6,2027.4 2563.7,1998.6 2603.9,1967.3 2644,1933.4 2684.1,1897.6 2724.3,1858.5 2764.4,1817.3 2817.4,1758.4 2817.4,1955.5 2764.4,1981.1 2724.3,1998.2 2684.1,2016.5 2644,2033.6 2603.9,2050.6 2563.7,2067.5 2523.6,2084.9 2483.5,2101.6 2443.3,2117.8 2403.2,2133 2374.5,2143.3"/>
  <polyline fill="none" stroke="#1fdc1f" stroke-width="3.6" stroke-linejoin="round" points="2162.4,2195.6 2374.5,2133.3 2403.2,2120.3 2443.3,2100.7 2483.5,2079.5 2523.6,2057.2 2563.7,2033.4 2603.9,2008.5 2644,1982.4 2684.1,1955.2 2724.3,1927 2764.4,1897.7 2817.4,1857.5"/>
  <g fill="#000">
    <circle cx="2162.4" cy="2195.6" r="5.5"/><circle cx="2432.9" cy="1674.6" r="5.5"/><circle cx="2628.4" cy="1674.6" r="5.5"/><circle cx="2635.8" cy="1689.4" r="5.5"/><circle cx="2682.5" cy="1686.7" r="5.5"/><circle cx="2818.4" cy="1674.6" r="5.5"/><circle cx="2539.3" cy="1874.2" r="5.5"/><circle cx="2723.1" cy="1837.3" r="5.5"/><circle cx="2752" cy="1892.9" r="5.5"/><circle cx="2760" cy="1900.3" r="5.5"/><circle cx="2720" cy="2013.4" r="5.5"/><circle cx="2704.6" cy="2146.7" r="5.5"/><circle cx="2700.3" cy="2172.8" r="5.5"/><circle cx="2385.6" cy="2071" r="5.5"/><circle cx="2409.5" cy="2081" r="5.5"/><circle cx="2449.5" cy="2054.3" r="5.5"/><circle cx="2374.5" cy="2127.9" r="5.5"/><circle cx="2391.7" cy="2117.9" r="5.5"/><circle cx="2398.5" cy="2129.3" r="5.5"/><circle cx="2378.8" cy="2147.4" r="5.5"/><circle cx="2391.1" cy="2145.4" r="5.5"/><circle cx="2403.4" cy="2147.4" r="5.5"/><circle cx="2436" cy="2150.7" r="5.5"/><circle cx="2426.8" cy="2168.8" r="5.5"/><circle cx="2404.6" cy="2179.5" r="5.5"/>
  </g>
  <g font-size="38" fill="#4d4d4d" text-anchor="end">
    <text x="2119.4" y="1519.2">800</text><text x="2119.4" y="1691.8">600</text><text x="2119.4" y="1864.4">400</text><text x="2119.4" y="2037">200</text><text x="2119.4" y="2209.6">0</text>
  </g>
  <g font-size="38" fill="#4d4d4d" text-anchor="middle">
    <text x="2162.4" y="2272.6">0</text><text x="2296.2" y="2272.6">250</text><text x="2430" y="2272.6">500</text><text x="2563.7" y="2272.6">750</text><text x="2697.5" y="2272.6">1000</text><text x="2831.3" y="2272.6">1250</text>
  </g>
  <text x="2490" y="2317.5" font-size="46" text-anchor="middle" textLength="435" lengthAdjust="spacingAndGlyphs">Drug Exposure [ng/L]</text>
  <text transform="translate(1993,1845) rotate(-90)" font-size="46" text-anchor="middle" textLength="493" lengthAdjust="spacingAndGlyphs">EEG 1/f % Change from</text>
  <text transform="translate(2042,1845) rotate(-90)" font-size="46" text-anchor="middle" textLength="822" lengthAdjust="spacingAndGlyphs">Baseline of Treatment relative to Control</text>
</g>

<!-- CHEVRON -->
<polygon points="112,2394 2792,2394 1452,2533" fill="url(#chev)"/>

<!-- BAR CHART -->
<g>
  <rect x="1344" y="2834.5" width="83" height="169.5" fill="#000"/>
  <rect x="1469" y="2776.5" width="83" height="227.5" fill="#4599d4"/>
  <g stroke="#111" stroke-width="3" fill="none">
    <line x1="1386" y1="2834.5" x2="1386" y2="2807.5"/><line x1="1362.5" y1="2807.5" x2="1407" y2="2807.5"/>
    <line x1="1510.5" y1="2776.5" x2="1510.5" y2="2730.6"/><line x1="1487" y1="2730.6" x2="1532" y2="2730.6"/>
    <path d="M1386,2782.5 V2677.6 H1510.5 V2705.6"/>
  </g>
  <g stroke="#111" stroke-width="4.5">
    <line x1="1302" y1="2565" x2="1302" y2="3006"/><line x1="1300" y1="3004" x2="1594" y2="3004"/>
    <line x1="1284" y1="2569" x2="1302" y2="2569"/><line x1="1284" y1="2693.6" x2="1302" y2="2693.6"/><line x1="1284" y1="2817.5" x2="1302" y2="2817.5"/><line x1="1284" y1="2941.8" x2="1302" y2="2941.8"/>
    <line x1="1386" y1="3004" x2="1386" y2="3024"/><line x1="1510.5" y1="3004" x2="1510.5" y2="3024"/>
  </g>
  <g font-size="31" font-weight="700" fill="#231f20" text-anchor="end">
    <text x="1277" y="2580" textLength="40" lengthAdjust="spacingAndGlyphs">1.4</text>
    <text x="1277" y="2704.6" textLength="40" lengthAdjust="spacingAndGlyphs">1.2</text>
    <text x="1277" y="2828.5" textLength="40" lengthAdjust="spacingAndGlyphs">1.0</text>
    <text x="1277" y="2952.8" textLength="40" lengthAdjust="spacingAndGlyphs">0.8</text>
  </g>
  <text x="1447" y="2683" font-size="64" font-weight="700" text-anchor="middle" fill="#111">*</text>
  <text transform="translate(1205,2783.5) rotate(-90)" font-size="36" text-anchor="middle" fill="#333" textLength="397" lengthAdjust="spacingAndGlyphs">Change in Aβ42 / Aβ40</text>
  <text transform="translate(1404,3055) rotate(-45)" font-size="35" font-weight="700" text-anchor="end" fill="#231f20" textLength="140" lengthAdjust="spacingAndGlyphs">Placebo</text>
  <text transform="translate(1529,3055) rotate(-45)" font-size="35" font-weight="700" text-anchor="end" fill="#231f20" textLength="170" lengthAdjust="spacingAndGlyphs">Treatment</text>
</g>

<g font-size="96" font-weight="700" fill="#231f20">
  <text x="1656" y="2685" textLength="122" lengthAdjust="spacingAndGlyphs">Aβ</text>
  <text x="1656" y="2793" textLength="450" lengthAdjust="spacingAndGlyphs">Clearance</text>
  <text x="1656" y="2901.5" textLength="250" lengthAdjust="spacingAndGlyphs">to the</text>
  <text x="1658" y="3010" textLength="325" lengthAdjust="spacingAndGlyphs">Plasma</text>
</g>
</svg>
</body></html>
